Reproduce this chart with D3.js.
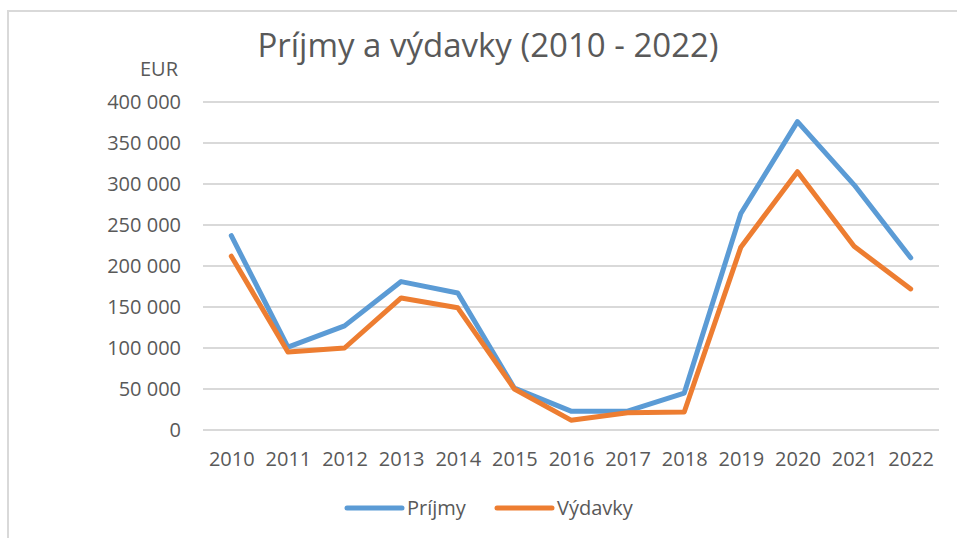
<!DOCTYPE html>
<html>
<head>
<meta charset="utf-8">
<script src="https://cdn.jsdelivr.net/npm/d3@7"></script>
<style>
  body { margin: 0; background: #fff; }
  text { font-family: "Open Sans", "Noto Sans", sans-serif; fill: #595959; }
</style>
</head>
<body>
<div id="chart"></div>
<script>
// chart data
var years = ["2010","2011","2012","2013","2014","2015","2016","2017","2018","2019","2020","2021","2022"];
var prijmy = [237000, 101000, 127000, 181000, 167000, 51000, 23000, 23000, 45000, 264000, 376000, 299000, 210000];
var vydavky = [212000, 95000, 100000, 161000, 149000, 50000, 12000, 21000, 22000, 223000, 315000, 224000, 172000];
var yTicks = [0, 50000, 100000, 150000, 200000, 250000, 300000, 350000, 400000];
var seriesNames = ["Príjmy", "Výdavky"];
var seriesColors = ["#5B9BD5", "#ED7D31"];

var W = 957, H = 538;
var plotLeft = 203, plotRight = 939, plotTop = 102, plotBottom = 430;

var svg = d3.select("#chart").append("svg")
  .attr("width", W).attr("height", H);

// outer frame (only top and left edges are visible in the picture)
svg.append("path")
  .attr("d", "M8,538 V11 H957")
  .attr("fill", "none")
  .attr("stroke", "#D9D9D9")
  .attr("stroke-width", 2);

// scales
var x = d3.scalePoint().domain(years).range([plotLeft, plotRight]).padding(0.5);
var y = d3.scaleLinear().domain([0, 400000]).range([plotBottom, plotTop]);

// number format with space as thousands separator
var locale = d3.formatLocale({decimal: ",", thousands: " ", grouping: [3], currency: ["", " €"]});
var fmt = locale.format(",");

// gridlines
svg.append("g").selectAll("line")
  .data(yTicks)
  .enter().append("line")
  .attr("x1", plotLeft).attr("x2", plotRight)
  .attr("y1", function(d) { return y(d); })
  .attr("y2", function(d) { return y(d); })
  .attr("stroke", "#D9D9D9")
  .attr("stroke-width", 2);

// y axis labels
var yAxis = d3.axisLeft(y).tickValues(yTicks).tickFormat(fmt).tickSize(0).tickPadding(0);
var gy = svg.append("g").attr("transform", "translate(181,0)").call(yAxis);
gy.select(".domain").remove();
gy.selectAll("text").attr("font-size", 20).attr("font-family", null).attr("fill", "#595959");

// x axis labels
var xAxis = d3.axisBottom(x).tickSize(0).tickPadding(0);
var gx = svg.append("g").attr("transform", "translate(0,452)").call(xAxis);
gx.select(".domain").remove();
gx.selectAll("text").attr("font-size", 20).attr("font-family", null).attr("fill", "#595959");

// lines
var line = d3.line()
  .x(function(d, i) { return x(years[i]); })
  .y(function(d) { return y(d); });

[prijmy, vydavky].forEach(function(s, i) {
  svg.append("path")
    .datum(s)
    .attr("d", line)
    .attr("fill", "none")
    .attr("stroke", seriesColors[i])
    .attr("stroke-width", 5)
    .attr("stroke-linejoin", "round")
    .attr("stroke-linecap", "round");
});

// title and unit
svg.append("text")
  .attr("x", 488).attr("y", 57)
  .attr("text-anchor", "middle")
  .attr("font-size", 33)
  .text("Príjmy a výdavky (2010 - 2022)");

svg.append("text")
  .attr("x", 178).attr("y", 76)
  .attr("text-anchor", "end")
  .attr("font-size", 20)
  .text("EUR");

// legend
var legendX = [347, 497];
seriesNames.forEach(function(name, i) {
  var g = svg.append("g").attr("transform", "translate(" + legendX[i] + ",508)");
  g.append("line")
    .attr("x1", 0).attr("x2", 55)
    .attr("stroke", seriesColors[i])
    .attr("stroke-width", 5)
    .attr("stroke-linecap", "round");
  g.append("text")
    .attr("x", 60).attr("y", 7)
    .attr("font-size", 20)
    .text(name);
});
</script>
</body>
</html>
